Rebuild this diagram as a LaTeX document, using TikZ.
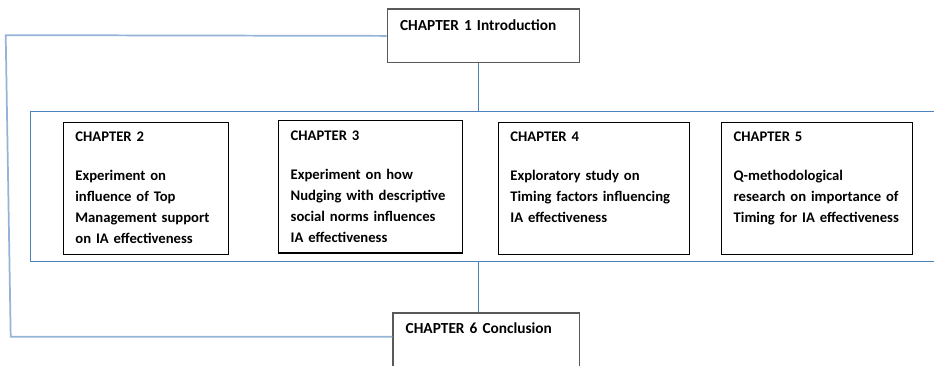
\documentclass[tikz,border=0pt]{standalone}
\usepackage{fontspec}
\setmainfont{Carlito}

\tikzset{every picture/.style={line width=0.75pt}}
\tikzset{
  chapbox/.style={draw={rgb, 255:red, 0; green, 0; blue, 0 }, line width=1pt, anchor=north west, align=left,
    inner xsep=9pt, inner ysep=7.5pt, text height=7.1pt, text depth=77.1pt,
    font=\bfseries\fontsize{11}{15.75}\selectfont},
  endbox/.style={draw={rgb, 255:red, 89; green, 89; blue, 89 }, line width=1.1pt, anchor=north west, align=left,
    inner xsep=9.5pt, inner ysep=7.5pt, font=\bfseries\fontsize{11.5}{14}\selectfont},
  studybox/.style={draw={rgb, 255:red, 79; green, 129; blue, 189 }, line width=0.8pt, anchor=north west, inner sep=0pt},
  linkline/.style={draw={rgb, 255:red, 79; green, 129; blue, 189 }, line width=0.8pt},
  sideline/.style={draw={rgb, 255:red, 149; green, 179; blue, 215 }, line width=1.3pt}
}

\begin{document}
\begin{tikzpicture}[x=0.75pt,y=0.75pt,yscale=-1,xscale=1]
\useasboundingbox (0,0) rectangle (934,366);

% Outer box
\node [studybox, minimum width=682.5pt, minimum height=112.7pt] (studies) at (29.7,111) {};

% Text Node
\node [endbox, text width=125.2pt, text height=8.3pt, text depth=17pt] (ch1) at (386.7,8.3) {CHAPTER 1 Introduction};
% Text Node
\node [endbox, text width=121pt, text height=7.8pt, text depth=21.2pt] (ch6) at (392.3,312.3) {CHAPTER 6 Conclusion};

% Text Node
\node [chapbox, text width=106pt] (ch2) at (62.7,121.7) {CHAPTER 2\\[13.5pt]Experiment on\\influence of Top\\Management support\\on IA effectiveness};
% Text Node
\node [chapbox, text width=120pt] (ch3) at (278,120) {CHAPTER 3\\[13.5pt]Experiment on how\\Nudging with descriptive\\social norms influences\\IA effectiveness};
% Text Node
\node [chapbox, text width=125.25pt] (ch4) at (497.7,121.7) {CHAPTER 4\\[13.5pt]Exploratory study on\\Timing factors influencing\\IA effectiveness};
% Text Node
\node [chapbox, text width=125pt] (ch5) at (721,121.7) {CHAPTER 5\\[13.5pt]Q-methodological\\research on importance of\\Timing for IA effectiveness};

%Straight Lines
\coordinate (spine) at (478.3,0);
\draw [linkline] (spine |- ch1.south) -- (spine |- studies.north);
\draw [linkline] (spine |- studies.south) -- (spine |- ch6.north);
%Straight Lines
\coordinate (tl) at (5.7,35.15);
\coordinate (bl) at (10.7,336.7);
\draw [sideline] (ch1.west) -- (tl) -- (bl) -- (bl -| ch6.west);

\end{tikzpicture}
\end{document}
